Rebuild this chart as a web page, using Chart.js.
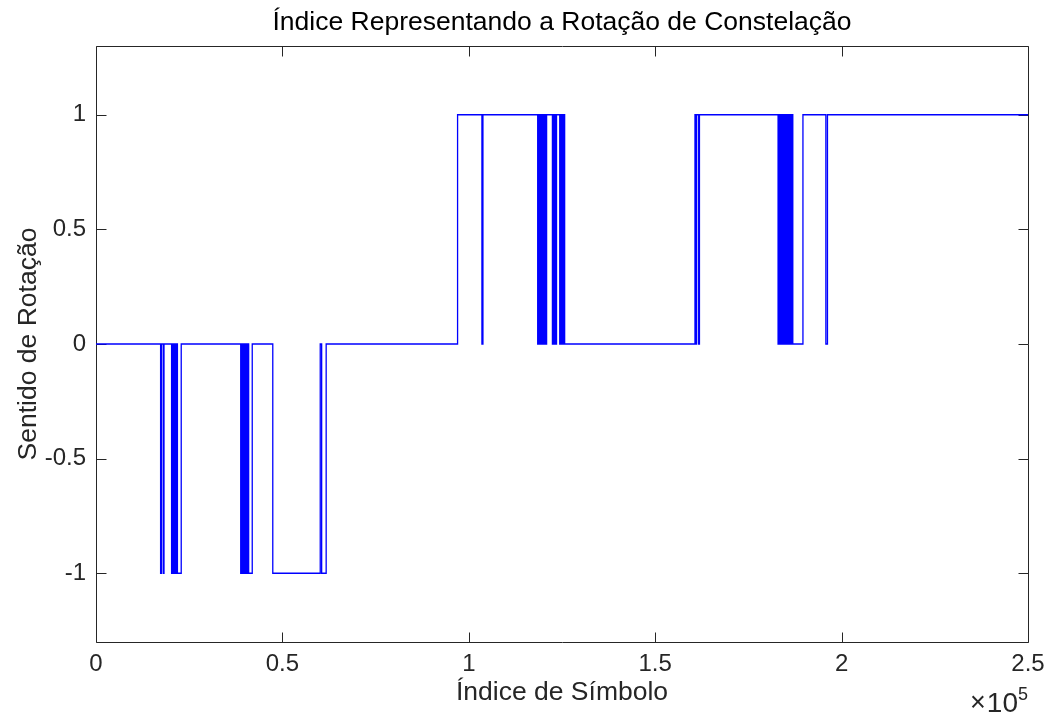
<!DOCTYPE html>
<html>
<head>
<meta charset="utf-8">
<title>Índice Representando a Rotação de Constelação</title>
<script src="https://cdn.jsdelivr.net/npm/chart.js@4/dist/chart.umd.min.js"></script>
<style>
  html, body { margin: 0; padding: 0; background: #ffffff; }
  #wrap { width: 1048px; height: 715px; position: relative; }
</style>
</head>
<body>
<div id="wrap"><canvas id="chart"></canvas></div>
<script>
// Symbol indices where the rotation direction changes, and the level it takes from there on
const switchAt = [
  0,
  17330, 17540, 18030, 18240,
  20280, 20500, 20690, 20880, 21090, 21280, 21470, 21650, 21840, 22860,
  38820, 39040, 39250, 39470, 39680, 39900, 40110, 40330, 40540, 40760, 40950, 41910,
  47420, 60150, 60530, 61740,
  96990, 103520, 103790,
  118480, 118700, 118910, 119130, 119340, 119560, 119770, 119990, 120200, 120420, 120630, 120870,
  122430, 122650, 122860, 123080, 123290, 123530,
  124390, 124610, 124820, 125040, 125250, 125470, 125710,
  160670, 160880, 161120, 161660, 161870,
  182960, 183180, 183390, 183610, 183820, 184040, 184250, 184470, 184680, 184870,
  185140, 185360, 185570, 185790, 186000, 186220, 186430, 186650, 186910,
  189630, 195780, 196210,
  250000
];
const level = [
  0,
  -1, 0, -1, 0,
  -1, 0, -1, 0, -1, 0, -1, 0, -1, 0,
  -1, 0, -1, 0, -1, 0, -1, 0, -1, 0, -1, 0,
  -1, 0, -1, 0,
  1, 0, 1,
  0, 1, 0, 1, 0, 1, 0, 1, 0, 1, 0, 1,
  0, 1, 0, 1, 0, 1,
  0, 1, 0, 1, 0, 1, 0,
  1, 0, 1, 0, 1,
  0, 1, 0, 1, 0, 1, 0, 1, 0, 1,
  0, 1, 0, 1, 0, 1, 0, 1, 0,
  1, 0, 1,
  1
];

// Axis ticks and labels
const xTickVals = [0, 50000, 100000, 150000, 200000, 250000];
const xTickLabels = ['0', '0.5', '1', '1.5', '2', '2.5'];
const yTickVals = [-1, -0.5, 0, 0.5, 1];
const yTickLabels = ['-1', '-0.5', '0', '0.5', '1'];

const titleText = 'Índice Representando a Rotação de Constelação';
const xLabelText = 'Índice de Símbolo';
const yLabelText = 'Sentido de Rotação';

const FONT = '"Liberation Sans", Arial, Helvetica, sans-serif';
const AXIS_COLOR = '#262626';

const points = switchAt.map((x, i) => ({ x: x, y: level[i] }));

// Box and inward tick marks on all four sides, drawn under the data line
const frame = {
  id: 'frame',
  beforeDatasetsDraw(chart) {
    const ctx = chart.ctx;
    const a = chart.chartArea;
    const xs = chart.scales.x, ys = chart.scales.y;
    const L = Math.round(a.left) + 0.5, R = Math.round(a.right) + 0.5;
    const T = Math.round(a.top) + 0.5, B = Math.round(a.bottom) + 0.5;
    const tl = 10;
    ctx.save();
    ctx.strokeStyle = AXIS_COLOR;
    ctx.lineWidth = 1;
    ctx.beginPath();
    ctx.rect(L, T, R - L, B - T);
    xTickVals.forEach(v => {
      const px = Math.round(xs.getPixelForValue(v)) + 0.5;
      ctx.moveTo(px, B); ctx.lineTo(px, B - tl);
      ctx.moveTo(px, T); ctx.lineTo(px, T + tl);
    });
    yTickVals.forEach(v => {
      const py = Math.round(ys.getPixelForValue(v)) + 0.5;
      ctx.moveTo(L, py); ctx.lineTo(L + tl, py);
      ctx.moveTo(R, py); ctx.lineTo(R - tl, py);
    });
    ctx.stroke();
    ctx.restore();
  },
  // Title, axis labels and the ×10^5 multiplier
  afterDraw(chart) {
    const ctx = chart.ctx;
    const a = chart.chartArea;
    const cx = (a.left + a.right) / 2;
    ctx.save();
    ctx.fillStyle = '#000000';
    ctx.textAlign = 'center';
    ctx.textBaseline = 'middle';
    ctx.font = '26.5px ' + FONT;
    ctx.fillText(titleText, cx, 23);

    ctx.fillStyle = AXIS_COLOR;
    ctx.font = '26.5px ' + FONT;
    ctx.fillText(xLabelText, cx, 693);

    ctx.save();
    ctx.translate(29, (a.top + a.bottom) / 2);
    ctx.rotate(-Math.PI / 2);
    ctx.fillText(yLabelText, 0, 0);
    ctx.restore();

    // exponent: "×" then "10" with a raised "5"
    ctx.textAlign = 'right';
    ctx.textBaseline = 'alphabetic';
    ctx.font = '18px ' + FONT;
    ctx.fillText('5', 1028, 700);
    ctx.font = '28px ' + FONT;
    ctx.fillText('10', 1018, 712);
    const tw = ctx.measureText('10').width;
    ctx.font = '27px ' + FONT;
    ctx.fillText('\u00d7', 1018 - tw - 1, 711);
    ctx.restore();
  }
};

new Chart(document.getElementById('chart'), {
  type: 'line',
  data: {
    datasets: [{
      data: points,
      borderColor: '#0000ff',
      borderWidth: 1.3,
      pointRadius: 0,
      stepped: true,
      fill: false,
      tension: 0
    }]
  },
  options: {
    responsive: true,
    maintainAspectRatio: false,
    animation: false,
    events: [],
    layout: { padding: { top: 46, right: 20, left: 0, bottom: 0 } },
    plugins: {
      legend: { display: false },
      tooltip: { enabled: false },
      title: { display: false }
    },
    scales: {
      x: {
        type: 'linear',
        min: 0,
        max: 250000,
        afterBuildTicks: s => { s.ticks = xTickVals.map(v => ({ value: v })); },
        afterFit: s => { s.height = 73; s.paddingLeft = 0; s.paddingRight = 0; },
        grid: { display: false, drawTicks: false },
        border: { display: false },
        ticks: {
          padding: 8,
          color: AXIS_COLOR,
          font: { family: FONT, size: 24 },
          maxRotation: 0,
          autoSkip: false,
          callback: (v) => { const i = xTickVals.indexOf(v); return i >= 0 ? xTickLabels[i] : ''; }
        }
      },
      y: {
        type: 'linear',
        min: -1.3,
        max: 1.3,
        afterBuildTicks: s => { s.ticks = yTickVals.map(v => ({ value: v })); },
        afterFit: s => { s.width = 96; s.paddingTop = 0; s.paddingBottom = 0; },
        grid: { display: false, drawTicks: false },
        border: { display: false },
        ticks: {
          padding: 10,
          color: AXIS_COLOR,
          font: { family: FONT, size: 24 },
          autoSkip: false,
          callback: (v) => { const i = yTickVals.indexOf(v); return i >= 0 ? yTickLabels[i] : ''; }
        }
      }
    }
  },
  plugins: [frame]
});
</script>
</body>
</html>
